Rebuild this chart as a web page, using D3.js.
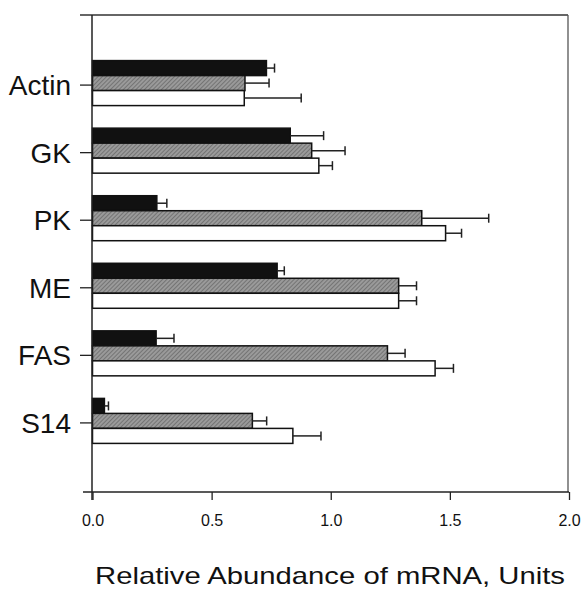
<!DOCTYPE html>
<html lang="en">
<head>
    <meta charset="utf-8">
    <script type="text/javascript" src="https://cdn.jsdelivr.net/npm/d3@7/dist/d3.min.js"></script>
    <style>
        body { margin: 0; background: #fff; }
        text { font-family: Arial, "Liberation Sans", sans-serif; fill: #111; }
    </style>
</head>
<body>
<script type="text/javascript">

    // Data
    let genes = ["Actin", "GK", "PK", "ME", "FAS", "S14"];
    let seriesNames = ["black", "hatched", "white"];
    let blackVals = [0.73, 0.83, 0.27, 0.775, 0.267, 0.05];
    let blackErr = [0.034, 0.14, 0.042, 0.03, 0.075, 0.017];
    let hatchedVals = [0.64, 0.92, 1.382, 1.285, 1.238, 0.671];
    let hatchedErr = [0.101, 0.14, 0.281, 0.075, 0.074, 0.06];
    let whiteVals = [0.637, 0.95, 1.482, 1.285, 1.438, 0.841];
    let whiteErr = [0.239, 0.057, 0.067, 0.075, 0.077, 0.118];
    let xTicks = [0, 0.5, 1.0, 1.5, 2.0];

    //Width and height
    let w = 584;
    let h = 592;

    let x = d3.scaleLinear()
        .domain([0, 2])
        .range([92.5, 569]);

    let y = d3.scalePoint()
        .domain(genes)
        .range([15, 492])
        .padding(1.03);

    let barH = 15;
    let series = [
        {name: seriesNames[0], vals: blackVals, err: blackErr, fill: "#111"},
        {name: seriesNames[1], vals: hatchedVals, err: hatchedErr, fill: "url(#hatch)"},
        {name: seriesNames[2], vals: whiteVals, err: whiteErr, fill: "#fff"}
    ];

    let svg = d3.select("body")
        .append("svg")
        .attr("width", w)
        .attr("height", h);

    //Hatch pattern for the grey bars
    let pat = svg.append("defs").append("pattern")
        .attr("id", "hatch")
        .attr("patternUnits", "userSpaceOnUse")
        .attr("width", 3)
        .attr("height", 3)
        .attr("patternTransform", "rotate(45)");
    pat.append("rect").attr("width", 3).attr("height", 3).attr("fill", "#9a9a9a");
    pat.append("line").attr("x1", 0).attr("y1", 0).attr("x2", 0).attr("y2", 3)
        .attr("stroke", "#5a5a5a").attr("stroke-width", 1.2);

    //Frame: top line and right line
    svg.append("line")
        .attr("x1", 80).attr("x2", 568)
        .attr("y1", 15).attr("y2", 15)
        .attr("stroke", "#333").attr("stroke-width", 1.5);
    svg.append("line")
        .attr("x1", 568).attr("x2", 568)
        .attr("y1", 15).attr("y2", 492)
        .attr("stroke", "#555").attr("stroke-width", 1.3);

    //Bars
    series.forEach(function (s, si) {
        let g = svg.append("g");
        g.selectAll("rect")
            .data(genes)
            .enter()
            .append("rect")
            .attr("x", x(0))
            .attr("y", d => y(d) - 24 + si * barH)
            .attr("width", (d, i) => x(s.vals[i]) - x(0))
            .attr("height", barH)
            .attr("fill", s.fill)
            .attr("stroke", "#111")
            .attr("stroke-width", 1.5);

        //Error bars
        g.selectAll("line.err")
            .data(genes)
            .enter()
            .append("line")
            .attr("class", "err")
            .attr("x1", (d, i) => x(s.vals[i]))
            .attr("x2", (d, i) => x(s.vals[i] + s.err[i]))
            .attr("y1", d => y(d) - 24 + si * barH + barH / 2)
            .attr("y2", d => y(d) - 24 + si * barH + barH / 2)
            .attr("stroke", "#222").attr("stroke-width", 1.5);
        g.selectAll("line.cap")
            .data(genes)
            .enter()
            .append("line")
            .attr("class", "cap")
            .attr("x1", (d, i) => x(s.vals[i] + s.err[i]))
            .attr("x2", (d, i) => x(s.vals[i] + s.err[i]))
            .attr("y1", d => y(d) - 24 + si * barH + barH / 2 - 4.5)
            .attr("y2", d => y(d) - 24 + si * barH + barH / 2 + 4.5)
            .attr("stroke", "#222").attr("stroke-width", 1.5);
    });

    //X axis
    let xAxis = svg.append("g")
        .attr("transform", "translate(0,492)")
        .call(d3.axisBottom(x).tickValues(xTicks).tickFormat(d3.format(".1f")).tickSize(8).tickSizeOuter(0));
    xAxis.select(".domain").attr("d", "M83,0H569").attr("stroke", "#222").attr("stroke-width", 1.5);
    xAxis.selectAll(".tick line").attr("stroke", "#222").attr("stroke-width", 1.3);
    xAxis.selectAll(".tick text")
        .attr("y", 23)
        .style("font-size", "16px")
        .style("font-family", "Arial, 'Liberation Sans', sans-serif")
        .attr("fill", "#111");

    //Y axis
    let yAxis = svg.append("g")
        .attr("transform", "translate(92,0)")
        .call(d3.axisLeft(y).tickSize(12).tickSizeOuter(0));
    yAxis.select(".domain").attr("d", "M0,15V500").attr("stroke", "#222").attr("stroke-width", 1.5);
    yAxis.selectAll(".tick line").attr("stroke", "#222").attr("stroke-width", 1.3);
    yAxis.selectAll(".tick text")
        .attr("x", -21)
        .attr("dy", "0.36em")
        .style("font-size", "28px")
        .style("font-family", "Arial, 'Liberation Sans', sans-serif")
        .attr("fill", "#111");

    //Axis title
    svg.append("text")
        .attr("x", 330)
        .attr("y", 584)
        .attr("text-anchor", "middle")
        .attr("textLength", 470)
        .attr("lengthAdjust", "spacingAndGlyphs")
        .style("font-size", "24px")
        .text("Relative Abundance of mRNA, Units");

</script>
</body>
</html>
